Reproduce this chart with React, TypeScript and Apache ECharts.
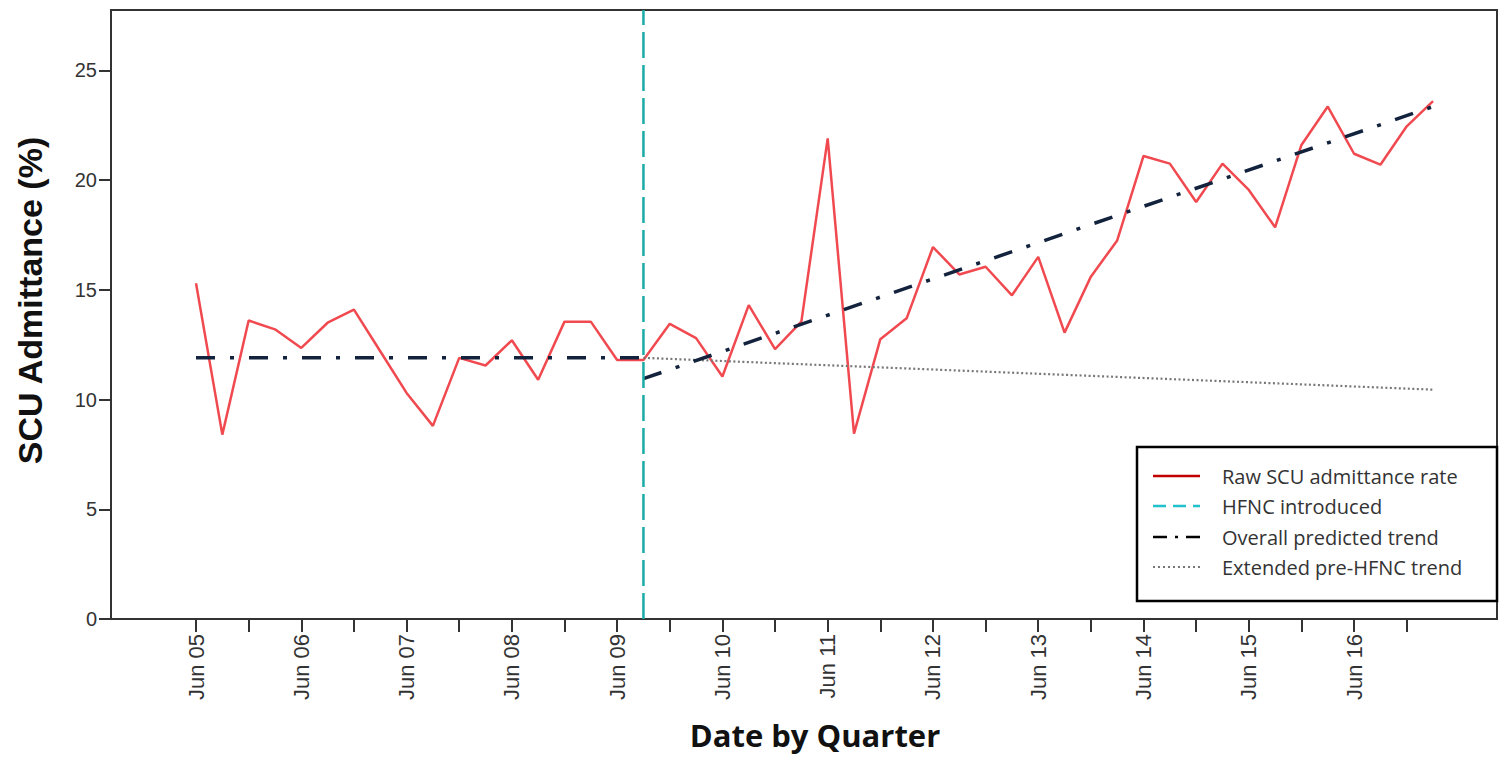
import React, { useEffect, useRef } from "react";
import * as echarts from "echarts";

// Quarterly SCU admittance (%) from Jun 05 (index 0) to Mar 17 (index 47)
const rawRate = [
  15.3, 8.4, 13.6, 13.2, 12.35, 13.5, 14.1, 12.2, 10.3, 8.8, 11.9, 11.55,
  12.7, 10.9, 13.55, 13.55, 11.8, 11.8, 13.45, 12.8, 11.05, 14.3, 12.3, 13.55,
  21.9, 8.45, 12.75, 13.7, 16.95, 15.7, 16.05, 14.75, 16.5, 13.05, 15.6, 17.25,
  21.1, 20.75, 19.0, 20.75, 19.55, 17.85, 21.6, 23.35, 21.2, 20.7, 22.45, 23.6,
];
const hfncQuarter = 17;
const preTrend = [
  [0, 11.9],
  [17, 11.9],
];
const postTrend = [
  [17, 10.95],
  [47, 23.35],
];
const extendedTrend = [
  [17, 11.9],
  [47, 10.45],
];
const yearLabels = [
  "Jun 05", "Jun 06", "Jun 07", "Jun 08", "Jun 09", "Jun 10",
  "Jun 11", "Jun 12", "Jun 13", "Jun 14", "Jun 15", "Jun 16",
];
const tickQuarters = [0, 2, 4, 6, 8, 10, 12, 14, 16, 18, 20, 22, 24, 26, 28, 30, 32, 34, 36, 38, 40, 42, 44, 46];
const labelQuarters = [0, 4, 8, 12, 16, 20, 24, 28, 32, 36, 40, 44];
const yTicks = [0, 5, 10, 15, 20, 25];
const legendNames = [
  "Raw SCU admittance rate",
  "HFNC introduced",
  "Overall predicted trend",
  "Extended pre-HFNC trend",
];

const X_MIN = -3.23;
const X_MAX = 49.43;
const Y_MAX = 27.75;

export default function App() {
  const ref = useRef<HTMLDivElement>(null);
  useEffect(() => {
    document.body.style.margin = "0";
    const chart = echarts.init(ref.current!, null, { renderer: "svg" });
    const axisFont = "'Liberation Sans', Arial, sans-serif";
    const lx = 1153;
    const lx2 = 1200;
    const tx = 1222;
    const rows = [476, 506, 537, 567];
    chart.setOption({
      animation: false,
      backgroundColor: "#ffffff",
      grid: {
        left: 111,
        right: 9,
        top: 10,
        bottom: 142,
        show: true,
        borderColor: "#333",
        borderWidth: 2,
        backgroundColor: "transparent",
      },
      xAxis: {
        type: "value",
        min: X_MIN,
        max: X_MAX,
        name: "Date by Quarter",
        nameLocation: "middle",
        nameGap: 100,
        nameTextStyle: {
          fontFamily: "'Open Sans', sans-serif",
          fontWeight: "bold",
          fontSize: 31,
          color: "#111",
          padding: [0, 0, 0, 22],
        },
        splitLine: { show: false },
        axisLine: { show: true, onZero: false, lineStyle: { color: "#333", width: 2 } },
        axisTick: {
          show: true,
          length: 13,
          customValues: tickQuarters,
          lineStyle: { color: "#333", width: 2 },
        },
        axisLabel: {
          rotate: 90,
          margin: 15,
          customValues: labelQuarters,
          formatter: (v: number) => yearLabels[Math.round(v / 4)] ?? "",
          fontFamily: axisFont,
          fontSize: 22,
          color: "#333",
        },
      },
      yAxis: {
        type: "value",
        min: 0,
        max: Y_MAX,
        name: "SCU Admittance (%)",
        nameLocation: "middle",
        nameGap: 64,
        nameTextStyle: {
          fontFamily: axisFont,
          fontWeight: "bold",
          fontSize: 34,
          color: "#111",
          padding: [0, 0, 0, 28],
        },
        splitLine: { show: false },
        axisLine: { show: true, onZero: false, lineStyle: { color: "#333", width: 2 } },
        axisTick: {
          show: true,
          length: 12,
          customValues: yTicks,
          lineStyle: { color: "#333", width: 2 },
        },
        axisLabel: {
          margin: 14,
          customValues: yTicks,
          fontFamily: axisFont,
          fontSize: 20,
          color: "#333",
        },
      },
      series: [
        {
          name: legendNames[0],
          type: "line",
          data: rawRate.map((v, i) => [i, v]),
          showSymbol: false,
          lineStyle: { color: "#f04a50", width: 2.5 },
          z: 2,
        },
        {
          name: legendNames[3],
          type: "line",
          data: extendedTrend,
          showSymbol: false,
          lineStyle: { color: "#777", width: 2.2, type: [2, 2.5] },
          z: 3,
        },
        {
          name: legendNames[2],
          type: "line",
          data: preTrend,
          showSymbol: false,
          lineStyle: { color: "#13233d", width: 3.5, type: [19, 15, 4, 15] },
          z: 4,
        },
        {
          name: legendNames[2] + " (post)",
          type: "line",
          data: postTrend,
          showSymbol: false,
          lineStyle: { color: "#13233d", width: 3.5, type: [19, 15, 4, 15] },
          z: 4,
        },
        {
          name: legendNames[1],
          type: "line",
          data: [
            [hfncQuarter, 0],
            [hfncQuarter, Y_MAX],
          ],
          showSymbol: false,
          lineStyle: { color: "#1aaba6", width: 2.5, type: [26, 7] },
          z: 5,
        },
      ],
      graphic: [
        {
          type: "group",
          children: [
            {
              type: "rect",
              shape: { x: 1137, y: 447, width: 360, height: 154 },
              style: { fill: "#fff", stroke: "#000", lineWidth: 2.5 },
            },
            {
              type: "line",
              shape: { x1: lx, y1: rows[0], x2: lx2, y2: rows[0] },
              style: { stroke: "#c00000", lineWidth: 2.5 },
            },
            {
              type: "line",
              shape: { x1: lx, y1: rows[1], x2: lx2, y2: rows[1] },
              style: { stroke: "#22c0cc", lineWidth: 2.5, lineDash: [13, 7] },
            },
            {
              type: "line",
              shape: { x1: lx, y1: rows[2], x2: lx2, y2: rows[2] },
              style: { stroke: "#000", lineWidth: 2.5, lineDash: [14, 8, 3, 8] },
            },
            {
              type: "line",
              shape: { x1: lx, y1: rows[3], x2: lx2, y2: rows[3] },
              style: { stroke: "#777", lineWidth: 2, lineDash: [2, 3] },
            },
            ...legendNames.map((n, k) => ({
              type: "text",
              x: tx,
              y: rows[k],
              style: {
                text: n,
                fill: "#333",
                font: "20px 'Open Sans', sans-serif",
                verticalAlign: "middle",
                align: "left",
              },
            })),
          ],
        },
      ],
    });
    return () => chart.dispose();
  }, []);
  return <div ref={ref} style={{ width: 1506, height: 761 }} />;
}
